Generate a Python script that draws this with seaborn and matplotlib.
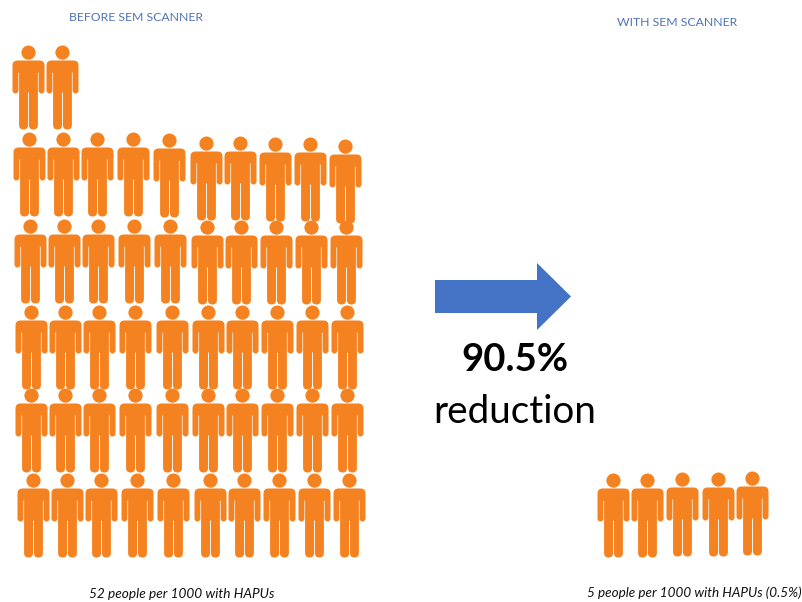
import matplotlib
matplotlib.use("Agg")
import matplotlib.pyplot as plt
from matplotlib.path import Path
from matplotlib.patches import FancyArrow
from matplotlib.transforms import Affine2D
import numpy as np
import pandas as pd
import seaborn as sns

# Pictogram counts: one icon is one person per 1000
before_row_counts = [2, 10, 10, 10, 10, 10]
with_row_counts = [5]
before_label = "BEFORE SEM SCANNER"
with_label = "WITH SEM SCANNER"
before_caption = "52 people per 1000 with HAPUs"
with_caption = "5 people per 1000 with HAPUs (0.5%)"
reduction_value = "90.5%"
reduction_word = "reduction"

ORANGE = "#F58220"
BLUE = "#4472C4"
TITLE_BLUE = "#4F73B5"
ICON_H = 84

# Hand-laid layout of the icon grid, in pixels
col_x = [29, 63, 97, 133, 169.5, 206, 240, 275, 310, 345]
col_drop = [-1, -1, -1, -1, 0, 3, 3, 4, 4, 6]
row_mid = [87, 175, 261, 346.5, 430, 514.5]
row_shift = [-0.5, -0.3, 1, 2.5, 2.5, 3.8]
row_tilt = [0, 1, 0.2, 0, 0, 0]
with_x = [613, 647, 682, 718, 752]
with_mid = [515, 515, 514, 514, 513]


def rounded(points, radii):
    """Closed outline through points, each corner rounded by its radius."""
    verts, codes = [], []
    n = len(points)
    for i, (p, r) in enumerate(zip(points, radii)):
        p = np.asarray(p, float)
        prev = np.asarray(points[i - 1], float)
        nxt = np.asarray(points[(i + 1) % n], float)
        a = p + (prev - p) / np.linalg.norm(prev - p) * r
        b = p + (nxt - p) / np.linalg.norm(nxt - p) * r
        verts += [a, p, b]
        codes += [Path.MOVETO if i == 0 else Path.LINETO, Path.CURVE3, Path.CURVE3]
    verts.append(verts[0])
    codes.append(Path.CLOSEPOLY)
    return Path(verts, codes)


def person_icon():
    # Coordinates are pixels from the icon centre, y upward
    head = Path.unit_circle().transformed(Affine2D().scale(7.1).translate(0, 42 - 7.1))
    outline = [
        (-16, 27), (16, 27), (16, -6), (10.1, -6), (10.1, 15), (9.4, 15),
        (9.4, -42), (0.45, -42), (0.45, -5), (-0.45, -5), (-0.45, -42), (-9.4, -42),
        (-9.4, 15), (-10.1, 15), (-10.1, -6), (-16, -6),
    ]
    radii = [5, 5, 2.95, 2.95, 0.3, 0.3, 4.47, 4.47, 0.2, 0.2, 4.47, 4.47, 0.3, 0.3, 2.95, 2.95]
    return Path.make_compound_path(head, rounded(outline, radii))


before = pd.DataFrame(
    [
        {
            "x": col_x[c] + row_shift[r],
            "y": row_mid[r] + col_drop[c] * row_tilt[r],
        }
        for r, count in enumerate(before_row_counts)
        for c in range(count)
    ]
)
after = pd.DataFrame({"x": with_x[: with_row_counts[0]], "y": with_mid[: with_row_counts[0]]})

sns.set_theme(style="white")
plt.rcParams["font.family"] = ["Lato", "DejaVu Sans"]

fig = plt.figure(figsize=(8.03, 6.02), dpi=100, facecolor="white")
ax = fig.add_axes([0, 0, 1, 1])
ax.set_xlim(0, 803)
ax.set_ylim(602, 0)
ax.axis("off")

icon = person_icon()
marker_size = (ICON_H * 72 / 100) ** 2
for frame in (before, after):
    sns.scatterplot(
        data=frame, x="x", y="y", marker=icon, s=marker_size,
        color=ORANGE, linewidth=0, ax=ax, legend=False, clip_on=False,
    )
# Keep the icons the same width wherever they land on the pixel grid
for collection in ax.collections:
    collection.set_snap(False)

ax.add_patch(
    FancyArrow(
        435, 296.5, 136, 0, width=33, head_width=67, head_length=34,
        length_includes_head=True, color=BLUE, linewidth=0,
    )
)

ax.text(136.5, 17.5, before_label, color=TITLE_BLUE, fontsize=8.8, ha="center", va="center")
ax.text(677, 22.5, with_label, color=TITLE_BLUE, fontsize=8.8, ha="center", va="center")
ax.text(181.5, 594, before_caption, color="#111111", fontsize=9.8, style="italic", ha="center", va="center")
ax.text(694, 593, with_caption, color="#111111", fontsize=9.75, style="italic", ha="center", va="center")
ax.text(515, 360, reduction_value, color="black", fontsize=27.5, fontweight="bold", ha="center", va="center")
ax.text(515, 412, reduction_word, color="black", fontsize=27.8, ha="center", va="center")

fig.savefig("out.png", dpi=100)
